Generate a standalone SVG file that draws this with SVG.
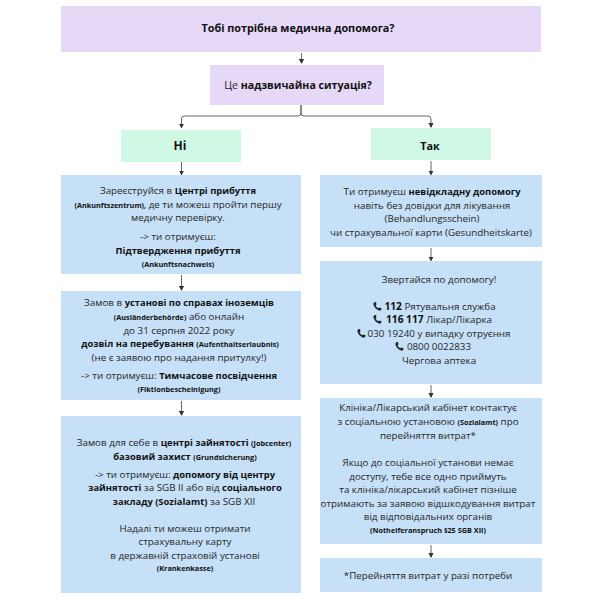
<svg xmlns="http://www.w3.org/2000/svg" xmlns:xlink="http://www.w3.org/1999/xlink" width="600" height="600" viewBox="0 0 600 600">
<style>
text{font-family:"Open Sans","Noto Sans",sans-serif;font-size:9.8px;fill:#262626;text-anchor:middle}
.b{font-weight:700;fill:#111;font-size:9.4px}
.n{font-weight:700;fill:#111;font-size:10.2px}
.t{font-weight:700;fill:#111;font-size:10.8px}
.s{font-size:7.3px;font-weight:700;fill:#111}
.p{fill:#e6d9f8}.g{fill:#cff9e4}.u{fill:#c5e0f7}
.c{fill:none;stroke:#555;stroke-width:.9}
.i{fill:#222}
</style>
<defs>
<marker id="a" markerWidth="5" markerHeight="6" refX="4" refY="3" orient="auto" markerUnits="userSpaceOnUse"><path d="M0 .4L5 3L0 5.600z" fill="#333"/></marker>
<path id="ph" d="M1.200 .3L3 0Q3.600 2 3.300 2.800L2.600 3.400Q3.600 5.400 5.400 6.200L6.200 5.600Q7.200 5.600 8.600 6.600L8 8.200Q6.800 8.900 4.800 8Q1.600 6.400 .5 3Q.1 1.200 1.200 .3z"/>
</defs>
<g id="connectors">
<path class="c" marker-end="url(#a)" d="M301.500 53V63"/>
<path class="c" marker-end="url(#a)" d="M301 105V113Q301 116 298 116H184.500Q181.500 116 181.500 119V127.500"/>
<path class="c" marker-end="url(#a)" d="M301 105V113Q301 116 304 116H428Q431 116 431 119V127"/>
<path class="c" marker-end="url(#a)" d="M181.500 162V174.500"/>
<path class="c" marker-end="url(#a)" d="M431 161V174.500"/>
<path class="c" marker-end="url(#a)" d="M181.500 275V290"/>
<path class="c" marker-end="url(#a)" d="M431 248V260.500"/>
<path class="c" marker-end="url(#a)" d="M181.500 401V415"/>
<path class="c" marker-end="url(#a)" d="M431 385V397"/>
<path class="c" marker-end="url(#a)" d="M431 545V557"/>
</g>
<g id="n1"><rect class="p" x="61" y="6" width="480" height="46"/><text class="t" x="298" y="32">Тобі потрібна медична допомога?</text></g>
<g id="n2"><rect class="p" x="210" y="65" width="174" height="40"/><text x="298" y="89" style="font-size:10.6px">Це <tspan class="t" style="font-size:10.6px">надзвичайна ситуація?</tspan></text></g>
<g id="n3"><rect class="g" x="121" y="130" width="120" height="32"/><text class="t" x="180" y="150" style="font-size:12px">Ні</text></g>
<g id="n4"><rect class="g" x="371" y="128" width="120" height="32"/><text class="t" x="430" y="150" style="font-size:10.8px">Так</text></g>
<g id="n5"><rect class="u" x="61" y="175" width="240" height="99"/>
<text x="178" y="194">Зареєструйся в <tspan class="b">Центрі прибуття</tspan></text>
<text x="178" y="208"><tspan class="s">(Ankunftszentrum),</tspan> де ти можеш пройти першу</text>
<text x="178" y="221">медичну перевірку.</text>
<text x="178" y="240">-&gt; ти отримуєш:</text>
<text class="b" x="178" y="254">Підтвердження прибуття</text>
<text class="s" x="178" y="267">(Ankunftsnachweis)</text></g>
<g id="n6"><rect class="u" x="61" y="291" width="240" height="109"/>
<text x="179" y="306">Замов в <tspan class="b">установі по справах іноземців</tspan></text>
<text x="179" y="320"><tspan class="s">(Ausländerbehörde)</tspan> або онлайн</text>
<text x="179" y="334">до 31 серпня 2022 року</text>
<text x="180" y="347"><tspan class="b">дозвіл на перебування</tspan> <tspan class="s">(Aufenthaltserlaubnis)</tspan></text>
<text x="179" y="361">(не є заявою про надання притулку!)</text>
<text x="179" y="379">-&gt; ти отримуєш: <tspan class="b">Тимчасове посвідчення</tspan></text>
<text class="s" x="179" y="392">(Fiktionbescheinigung)</text></g>
<g id="n7"><rect class="u" x="61" y="416" width="240" height="177"/>
<text x="184" y="446">Замов для себе в <tspan class="b">центрі зайнятості</tspan> <tspan class="s">(Jobcenter)</tspan></text>
<text x="185" y="460"><tspan class="b">базовий захист</tspan> <tspan class="s">(Grundsicherung)</tspan></text>
<text x="185" y="478">-&gt; ти отримуєш: <tspan class="b">допомогу від центру</tspan></text>
<text x="185" y="491"><tspan class="b">зайнятості</tspan> за SGB II або від <tspan class="b">соціального</tspan></text>
<text x="184" y="505"><tspan class="b">закладу (Sozialamt)</tspan> за SGB XII</text>
<text x="185" y="532">Надалі ти можеш отримати</text>
<text x="185" y="545">страхувальну карту</text>
<text x="185" y="559">в державній страховій установі</text>
<text class="s" x="185" y="571">(Krankenkasse)</text></g>
<g id="n8"><rect class="u" x="320" y="175" width="222" height="72"/>
<text x="432" y="195">Ти отримуєш <tspan class="b">невідкладну допомогу</tspan></text>
<text x="432" y="209">навіть без довідки для лікування</text>
<text x="432" y="222">(Behandlungsschein)</text>
<text x="431" y="236">чи страхувальної карти (Gesundheitskarte)</text></g>
<g id="n9"><rect class="u" x="320" y="261" width="222" height="123"/>
<text x="439" y="283">Звертайся по допомогу!</text>
<use class="i" xlink:href="#ph" x="373" y="302"/><text x="440" y="310"><tspan class="n">112</tspan> Рятувальня служба</text>
<use class="i" xlink:href="#ph" x="373" y="315"/><text x="439" y="323"><tspan class="n">116 117</tspan> Лікар/Лікарка</text>
<use class="i" xlink:href="#ph" x="357" y="329"/><text x="439" y="337">030 19240 у випадку отруєння</text>
<use class="i" xlink:href="#ph" x="395" y="342"/><text x="439" y="350">0800 0022833</text>
<text x="439" y="364">Чергова аптека</text></g>
<g id="n10"><rect class="u" x="320" y="398" width="222" height="146"/>
<text x="428" y="411">Клініка/Лікарський кабінет контактує</text>
<text x="428" y="425">з соціальною установою <tspan class="s">(Sozialamt)</tspan> про</text>
<text x="428" y="439">перейняття витрат*</text>
<text x="428" y="466">Якщо до соціальної установи немає</text>
<text x="428" y="480">доступу, тебе все одно приймуть</text>
<text x="428" y="493">та клініка/лікарський кабінет пізніше</text>
<text x="428" y="507">отримають за заявою відшкодування витрат</text>
<text x="428" y="520">від відповідальних органів</text>
<text class="s" x="428" y="533">(Nothelferanspruch §25 SGB XII)</text></g>
<g id="n11"><rect class="u" x="320" y="558" width="222" height="34"/>
<text x="428" y="579">*Перейняття витрат у разі потреби</text></g>
</svg>
